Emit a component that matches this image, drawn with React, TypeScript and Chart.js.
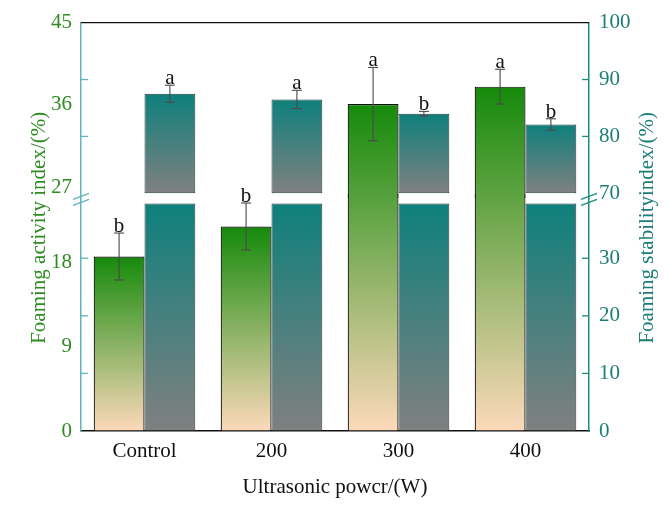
import React, { useEffect, useRef } from 'react';
import { Chart, registerables } from 'chart.js';
Chart.register(...registerables);

// ---------- data ----------
const categories = ['Control', '200', '300', '400'];
const activity = [18.6, 21.8, 36.1, 38.0];
const activityErr = [2.5, 2.5, 4.0, 1.9];
const activityLetters = ['b', 'b', 'a', 'a'];
const stability = [87.5, 86.5, 84.0, 82.1];
const stabilityErr = [1.5, 1.6, 0.4, 1.0];
const stabilityLetters = ['a', 'a', 'b', 'b'];

const leftUpperTicks = [27, 36, 45];
const leftLowerTicks = [0, 9, 18];
const rightUpperTicks = [70, 80, 90, 100];
const rightLowerTicks = [0, 10, 20, 30];
const rightInnerTicksUpper = [80, 90];
const rightInnerTicksLower = [10, 20, 30];

const leftUpperRange = [25.8, 45];
const leftLowerRange = [0, 24.8];
const leftLowerOverlap = 25.3;
const rightUpperRange = [69.12, 100];
const rightLowerRange = [0, 40.4];
const rightUpperBase = 70;
const rightLowerCap = 39.5;

const xTitle = 'Ultrasonic powcr/(W)';
const leftTitle = 'Foaming activity index/(%)';
const rightTitle = 'Foaming stabilityindex/(%)';

// ---------- style ----------
const FONT = '"Liberation Serif", "Times New Roman", serif';
const GREEN_TEXT = '#2e8c22';
const TEAL_TEXT = '#1b7d76';
const LEFT_AXIS = '#62b3bd';
const RIGHT_AXIS = '#1f8a84';
const GREEN_TOP = '#158a0b';
const GREEN_BOTTOM = '#fdd9ba';
const TEAL_TOP = '#0e807c';
const TEAL_BOTTOM = '#808080';
const BW = 1.2;

function vertGrad(ctx: CanvasRenderingContext2D, yTop: number, yBot: number, cTop: string, cBot: string) {
  const g = ctx.createLinearGradient(0, yTop, 0, yBot);
  g.addColorStop(0, cTop);
  g.addColorStop(1, cBot);
  return g;
}

function greenPix(chart: any, v: number) {
  const s = chart.scales;
  return v > leftUpperRange[0] ? s.yLU.getPixelForValue(v) : s.yLL.getPixelForValue(v);
}
function tealPix(chart: any, v: number) {
  const s = chart.scales;
  return v > rightUpperRange[0] ? s.yRU.getPixelForValue(v) : s.yRL.getPixelForValue(v);
}

const greenBg = (c: any) => {
  const chart = c.chart;
  const s = chart.scales;
  if (c.dataIndex === undefined || !chart.chartArea || !s.yLL || !s.yLU) return GREEN_TOP;
  const v = activity[c.dataIndex];
  return vertGrad(chart.ctx, greenPix(chart, v), s.yLL.getPixelForValue(0), GREEN_TOP, GREEN_BOTTOM);
};
const tealLowerBg = (c: any) => {
  const chart = c.chart;
  const s = chart.scales;
  if (c.dataIndex === undefined || !chart.chartArea || !s.yRL) return TEAL_TOP;
  const v = Math.min(stability[c.dataIndex], rightLowerCap);
  return vertGrad(chart.ctx, s.yRL.getPixelForValue(v), s.yRL.getPixelForValue(0), TEAL_TOP, TEAL_BOTTOM);
};
const tealUpperBg = (c: any) => {
  const chart = c.chart;
  const s = chart.scales;
  if (c.dataIndex === undefined || !chart.chartArea || !s.yRU) return TEAL_TOP;
  const v = stability[c.dataIndex];
  return vertGrad(chart.ctx, s.yRU.getPixelForValue(v), s.yRU.getPixelForValue(rightUpperBase), TEAL_TOP, TEAL_BOTTOM);
};

const overlay = {
  id: 'overlay',
  afterDraw(chart: any) {
    const ctx: CanvasRenderingContext2D = chart.ctx;
    const a = chart.chartArea;
    const s = chart.scales;
    ctx.save();
    const line = (x1: number, y1: number, x2: number, y2: number) => {
      ctx.beginPath();
      ctx.moveTo(x1, y1);
      ctx.lineTo(x2, y2);
      ctx.stroke();
    };
    // top frame
    ctx.strokeStyle = '#111';
    ctx.lineWidth = 1.3;
    line(a.left, a.top, a.right, a.top);

    // inward tick marks
    const tickSets: [any, number[]][] = [[s.yRU, rightInnerTicksUpper], [s.yRL, rightInnerTicksLower]];
    ctx.lineWidth = 1.3;
    for (const [sc, vals] of tickSets) {
      for (const v of vals) {
        const y = sc.getPixelForValue(v);
        ctx.strokeStyle = LEFT_AXIS;
        line(a.left, y, a.left + 7, y);
        ctx.strokeStyle = RIGHT_AXIS;
        line(a.right - 7, y, a.right, y);
      }
    }

    // break marks
    const b = s.yRU.bottom;
    const drawBreak = (x: number, color: string) => {
      ctx.strokeStyle = color;
      ctx.lineWidth = 1.4;
      line(x - 8, b + 1, x + 8, b - 5);
      line(x - 8, b + 7, x + 8, b + 1);
    };
    drawBreak(a.left, LEFT_AXIS);
    drawBreak(a.right, RIGHT_AXIS);

    // error bars + letters
    const metaG = chart.getDatasetMeta(0);
    const metaT = chart.getDatasetMeta(2);
    ctx.font = `21px ${FONT}`;
    ctx.textAlign = 'center';
    ctx.textBaseline = 'alphabetic';
    const drawErr = (x: number, yTop: number, yBot: number) => {
      ctx.strokeStyle = '#4a4a4a';
      ctx.lineWidth = 1.1;
      line(x, yTop, x, yBot);
      line(x - 5, yTop, x + 5, yTop);
      line(x - 5, yBot, x + 5, yBot);
    };
    for (let i = 0; i < categories.length; i++) {
      const xg = metaG.data[i].x;
      const gTop = greenPix(chart, activity[i] + activityErr[i]);
      const gBot = greenPix(chart, activity[i] - activityErr[i]);
      drawErr(xg, gTop, gBot);
      ctx.fillStyle = '#111';
      ctx.fillText(activityLetters[i], xg, gTop - 1);

      const xt = metaT.data[i].x;
      const tTop = tealPix(chart, stability[i] + stabilityErr[i]);
      const tBot = tealPix(chart, stability[i] - stabilityErr[i]);
      drawErr(xt, tTop, tBot);
      ctx.fillStyle = '#111';
      ctx.fillText(stabilityLetters[i], xt, tTop - 1);
    }

    // titles
    const midY = (a.top + a.bottom) / 2 + 1;
    ctx.textBaseline = 'middle';
    ctx.fillStyle = '#111';
    ctx.fillText(xTitle, (a.left + a.right) / 2, 487);
    ctx.save();
    ctx.translate(39, midY);
    ctx.rotate(-Math.PI / 2);
    ctx.fillStyle = GREEN_TEXT;
    ctx.fillText(leftTitle, 0, 0);
    ctx.restore();
    ctx.save();
    ctx.translate(647, midY);
    ctx.rotate(-Math.PI / 2);
    ctx.fillStyle = TEAL_TEXT;
    ctx.fillText(rightTitle, 0, 0);
    ctx.restore();

    ctx.restore();
  },
};

function yAxis(position: 'left' | 'right', weight: number, range: number[], ticks: number[], color: string, axisColor: string) {
  return {
    type: 'linear',
    position,
    stack: position,
    stackWeight: weight,
    stacked: false,
    min: range[0],
    max: range[1],
    grid: { drawOnChartArea: false, drawTicks: false },
    border: { color: axisColor, width: 1.5 },
    ticks: {
      autoSkip: false,
      color,
      padding: position === 'left' ? 9 : 10,
      font: { family: FONT, size: 21 },
    },
    afterBuildTicks: (axis: any) => {
      axis.ticks = ticks.map((v) => ({ value: v }));
    },
    afterFit: (axis: any) => {
      axis.width = position === 'left' ? 81 : 80;
    },
  };
}

export default function App() {
  const ref = useRef<HTMLCanvasElement | null>(null);
  useEffect(() => {
    document.body.style.margin = '0';
    const canvas = ref.current;
    if (!canvas) return;
    const chart = new Chart(canvas, {
      type: 'bar',
      data: {
        labels: categories,
        datasets: [
          {
            label: 'activity-lower',
            stack: 'g',
            yAxisID: 'yLL',
            clip: false,
            data: activity.map((v) => [0, v > leftLowerRange[1] ? leftLowerOverlap : v]),
            backgroundColor: greenBg,
            borderColor: '#111',
            borderSkipped: false,
            borderWidth: (c: any) =>
              c.dataIndex !== undefined && activity[c.dataIndex] > leftLowerRange[1]
                ? { top: 0, left: BW, right: BW, bottom: 0 }
                : { top: BW, left: BW, right: BW, bottom: 0 },
          },
          {
            label: 'activity-upper',
            stack: 'g',
            yAxisID: 'yLU',
            data: activity.map((v) => (v > leftUpperRange[0] ? [leftUpperRange[0], v] : null)),
            backgroundColor: greenBg,
            borderColor: '#111',
            borderSkipped: false,
            borderWidth: { top: BW, left: BW, right: BW, bottom: 0 },
          },
          {
            label: 'stability-lower',
            stack: 't',
            yAxisID: 'yRL',
            data: stability.map((v) => [0, Math.min(v, rightLowerCap)]),
            backgroundColor: tealLowerBg,
            borderColor: '#2a3f3d',
            borderSkipped: false,
            borderWidth: { top: 1, left: 1, right: 1, bottom: 0 },
          },
          {
            label: 'stability-upper',
            stack: 't',
            yAxisID: 'yRU',
            data: stability.map((v) => (v > rightUpperBase ? [rightUpperBase, v] : null)),
            backgroundColor: tealUpperBg,
            borderColor: '#2a3f3d',
            borderWidth: 1,
            borderSkipped: false,
          },
        ] as any,
      },
      options: {
        responsive: false,
        animation: false,
        events: [],
        categoryPercentage: 0.8,
        barPercentage: 1.0,
        layout: { padding: { top: 22, left: 0, right: 0, bottom: 0 } },
        plugins: { legend: { display: false }, tooltip: { enabled: false } },
        scales: {
          x: {
            type: 'category',
            grid: { display: false, drawTicks: false },
            border: { color: '#111', width: 1.5 },
            ticks: { color: '#111', padding: 8, font: { family: FONT, size: 21 } },
            afterFit: (axis: any) => {
              axis.height = 77;
            },
          },
          yLL: yAxis('left', 233, leftLowerRange, leftLowerTicks, GREEN_TEXT, LEFT_AXIS),
          yLU: yAxis('left', 176, leftUpperRange, leftUpperTicks, GREEN_TEXT, LEFT_AXIS),
          yRU: yAxis('right', 176, rightUpperRange, rightUpperTicks, TEAL_TEXT, RIGHT_AXIS),
          yRL: yAxis('right', 233, rightLowerRange, rightLowerTicks, TEAL_TEXT, RIGHT_AXIS),
        } as any,
      },
      plugins: [overlay as any],
    });
    return () => chart.destroy();
  }, []);
  return (
    <div style={{ position: 'absolute', left: 0, top: 0, width: 669, height: 508, background: '#fff' }}>
      <canvas ref={ref} width={669} height={508} style={{ display: 'block' }} />
    </div>
  );
}
